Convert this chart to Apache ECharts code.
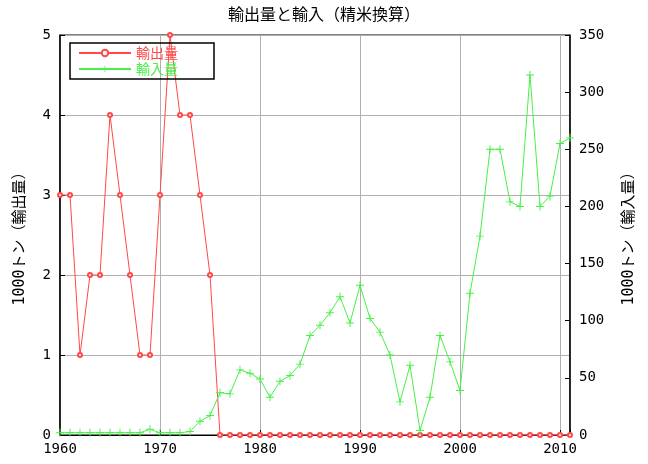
<!DOCTYPE html>
<html><head><meta charset="utf-8">
<script src="https://cdn.jsdelivr.net/npm/echarts@6/dist/echarts.min.js"></script>
<style>html,body{margin:0;padding:0;background:#fff}#c{width:648px;height:464px}</style>
</head><body><div id="c"></div>
<script>
const years = [];
for (let y = 1960; y <= 2011; y++) years.push(y);
const exportVals = [3,3,1,2,2,4,3,2,1,1,3,5,4,4,3,2,0,0,0,0,0,0,0,0,0,0,0,0,0,0,0,0,0,0,0,0,0,0,0,0,0,0,0,0,0,0,0,0,0,0,0,0];
const importVals = [2,2,2,2,2,2,2,2,2,5,2,2,2,3,12,17,37,36,57,54,49,33,47,52,62,87,96,107,121,98,131,102,90,70,29,61,4,33,87,64,39,124,174,250,250,204,200,315,200,209,255,260];
const leftTicks = [0,1,2,3,4,5];
const rightTicks = [0,50,100,150,200,250,300,350];
const xTicks = [1960,1970,1980,1990,2000,2010];

const FONT = "'DejaVu Sans Mono', 'Noto Sans CJK JP', monospace";
const RED = '#ff4848', GREEN = '#48f048';
const chart = echarts.init(document.getElementById('c'));
chart.setOption({
  animation: false,
  textStyle: { fontFamily: FONT },
  title: { text: '輸出量と輸入（精米換算）', left: 'center', top: 1,
    textStyle: { fontSize: 16, fontWeight: 'normal', color: '#000', fontFamily: "'Noto Sans CJK JP'" } },
  legend: {
    left: 70, top: 43, orient: 'vertical',
    padding: [3, 36, 3, 8], itemWidth: 52, itemHeight: 8, itemGap: 2,
    borderColor: '#000', borderWidth: 1.5,
    data: [
      { name: '輸出量', textStyle: { color: RED } },
      { name: '輸入量', textStyle: { color: GREEN } }
    ],
    textStyle: { fontSize: 14, fontFamily: "'Noto Sans CJK JP'", fontWeight: 'normal' }
  },
  grid: { left: 60, right: 78, top: 35, bottom: 29, show: true, borderColor: '#000', borderWidth: 1,
    containLabel: false, outerBoundsMode: 'none' },
  xAxis: {
    type: 'value', min: 1960, max: 2011, interval: 10,
    axisLine: { lineStyle: { color: '#000' } },
    axisTick: { inside: true, length: 5, lineStyle: { color: '#000' } },
    axisLabel: { color: '#000', fontSize: 14, margin: 7,
      formatter: v => (xTicks.indexOf(v) >= 0 ? String(v) : '') },
    splitLine: { show: true, lineStyle: { color: '#b0b0b0' } }
  },
  yAxis: [
    { type: 'value', min: 0, max: 5, interval: 1, position: 'left',
      name: '1000トン（輸出量）', nameLocation: 'middle', nameGap: 32, nameRotate: 90,
      nameTextStyle: { fontSize: 15, color: '#000', fontFamily: FONT },
      axisLine: { show: true, lineStyle: { color: '#000', width: 1.5 } },
      axisTick: { show: true, inside: true, length: 5, lineStyle: { color: '#000' } },
      axisLabel: { color: '#000', fontSize: 14, margin: 9,
        formatter: v => (leftTicks.indexOf(v) >= 0 ? String(v) : '') },
      splitLine: { show: true, lineStyle: { color: '#b0b0b0' } } },
    { type: 'value', min: 0, max: 350, interval: 50, position: 'right',
      name: '1000トン（輸入量）', nameLocation: 'middle', nameGap: 52, nameRotate: 90,
      nameTextStyle: { fontSize: 15, color: '#000', fontFamily: FONT },
      axisLine: { show: true, lineStyle: { color: '#000', width: 1.5 } },
      axisTick: { show: true, inside: true, length: 5, lineStyle: { color: '#000' } },
      axisLabel: { color: '#000', fontSize: 14, margin: 9,
        formatter: v => (rightTicks.indexOf(v) >= 0 ? String(v) : '') },
      splitLine: { show: false } }
  ],
  series: [
    { name: '輸出量', type: 'line', yAxisIndex: 0, clip: false,
      data: years.map((y, i) => [y, exportVals[i]]),
      symbol: 'emptyCircle', symbolSize: 4,
      itemStyle: { color: RED, borderColor: RED, borderWidth: 1 },
      lineStyle: { color: RED, width: 1 } },
    { name: '輸入量', type: 'line', yAxisIndex: 1, clip: false,
      data: years.map((y, i) => [y, importVals[i]]),
      symbol: 'path://M4.4,0H5.6V4.4H10V5.6H5.6V10H4.4V5.6H0V4.4H4.4Z', symbolSize: 8,
      itemStyle: { color: GREEN },
      lineStyle: { color: GREEN, width: 1 } }
  ]
});
</script></body></html>
